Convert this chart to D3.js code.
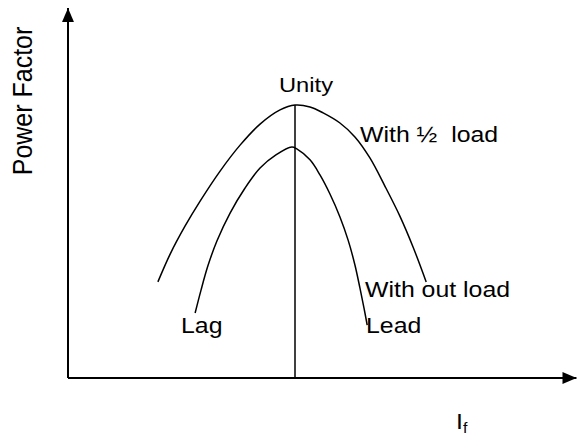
<!DOCTYPE html>
<html>
<head>
<meta charset="utf-8">
<script src="https://cdn.jsdelivr.net/npm/d3@7"></script>
<style>
  html, body { margin: 0; padding: 0; background: #fff; }
  svg { display: block; }
  .lbl { font-family: "Liberation Sans", Arial, sans-serif; fill: #000; white-space: pre; }
</style>
</head>
<body>
<div id="chart"></div>
<script>
// field current If (x) vs power factor (y); unity pf at If = 5
var halfLoadIf = [1.98, 2.25, 2.58, 2.91, 3.35, 3.79, 4.23, 4.67, 5.00, 5.33, 5.62, 5.99, 6.32, 6.65, 6.98, 7.31, 7.60, 7.89];
var halfLoadPf = [0.352, 0.454, 0.557, 0.648, 0.758, 0.853, 0.930, 0.982, 1.000, 0.993, 0.971, 0.934, 0.883, 0.806, 0.703, 0.593, 0.480, 0.352];

var noLoadIf = [2.80, 2.93, 3.08, 3.28, 3.57, 3.90, 4.23, 4.58, 4.93, 5.04, 5.33, 5.55, 5.77, 5.99, 6.17, 6.32, 6.43, 6.52, 6.59];
var noLoadPf = [0.238, 0.322, 0.410, 0.502, 0.604, 0.696, 0.769, 0.817, 0.846, 0.839, 0.799, 0.744, 0.674, 0.590, 0.505, 0.414, 0.330, 0.256, 0.194];

var unityIf = 5;
var axisMax = { x: 11.2, y: 1.355 };

(function () {
  "use strict";

  var W = 577, H = 438;
  var STRETCH = 1.13;   // the source lettering is a bit wide

  var x = d3.scaleLinear().domain([0, 10]).range([68, 522]);
  var y = d3.scaleLinear().domain([0, 1]).range([378, 105]);

  var svg = d3.select("#chart").append("svg")
    .attr("width", W).attr("height", H)
    .attr("viewBox", "0 0 " + W + " " + H);

  svg.append("defs").append("marker")
    .attr("id", "arrow")
    .attr("viewBox", "0 0 14 12")
    .attr("refX", 14).attr("refY", 6)
    .attr("markerWidth", 14).attr("markerHeight", 12)
    .attr("markerUnits", "userSpaceOnUse")
    .attr("orient", "auto")
    .append("path").attr("d", "M0,0L14,6L0,12Z").attr("fill", "#000");

  // axes
  svg.append("line")
    .attr("x1", x(0)).attr("y1", y(0)).attr("x2", x(0)).attr("y2", y(axisMax.y))
    .attr("stroke", "#000").attr("stroke-width", 2)
    .attr("marker-end", "url(#arrow)");
  svg.append("line")
    .attr("x1", x(0)).attr("y1", y(0)).attr("x2", x(axisMax.x)).attr("y2", y(0))
    .attr("stroke", "#000").attr("stroke-width", 2)
    .attr("marker-end", "url(#arrow)");

  // unity pf line
  svg.append("line")
    .attr("x1", x(unityIf)).attr("y1", y(0)).attr("x2", x(unityIf)).attr("y2", y(1))
    .attr("stroke", "#000").attr("stroke-width", 1.5);

  var line = d3.line()
    .x(function (d) { return x(d[0]); })
    .y(function (d) { return y(d[1]); })
    .curve(d3.curveCatmullRom.alpha(0.5));

  [[halfLoadIf, halfLoadPf], [noLoadIf, noLoadPf]].forEach(function (s) {
    svg.append("path")
      .datum(d3.zip(s[0], s[1]))
      .attr("d", line)
      .attr("fill", "none").attr("stroke", "#000").attr("stroke-width", 1.5);
  });

  function label(txt, px, py, size, anchor, rot) {
    return svg.append("text").attr("class", "lbl")
      .attr("font-size", size)
      .attr("text-anchor", anchor || "start")
      .attr("transform", "translate(" + px + "," + py + ") scale(" + STRETCH + ",1)" + (rot ? " rotate(" + rot + ")" : ""))
      .text(txt);
  }

  label("Power Factor", 32, 101, 25, "middle", -90);
  label("Unity", 306, 92, 21, "middle");
  label("With \u00bd  load", 360, 142, 22);
  label("With out load", 365, 297, 22);
  label("Lag", 181, 333, 22);
  label("Lead", 366, 333, 22);

  var iF = label("I", 456, 429, 22);
  iF.append("tspan").attr("font-size", 14).attr("dy", 4).text("f");
})();
</script>
</body>
</html>
